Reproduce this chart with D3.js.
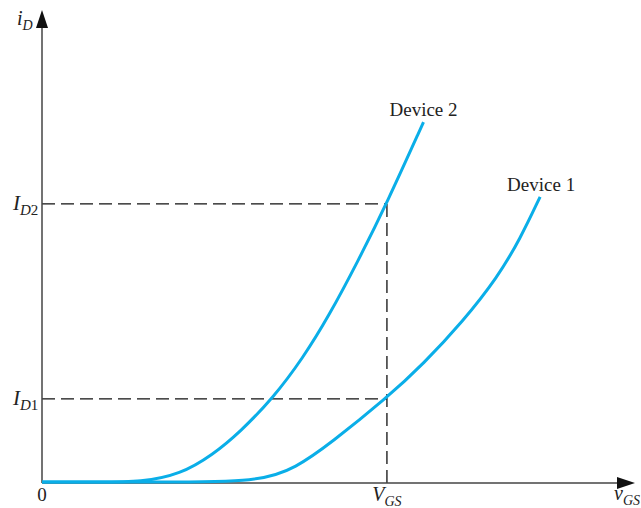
<!DOCTYPE html>
<html>
<head>
<meta charset="utf-8">
<script src="https://cdn.jsdelivr.net/npm/d3@7"></script>
<style>
  body { margin: 0; background: #fff; }
  text { font-family: "Liberation Serif", "DejaVu Serif", serif; fill: #222; }
</style>
</head>
<body>
<svg id="chart" width="641" height="508"></svg>
<script>
// curves: [vGS, iD] in arbitrary units
var device1 = [[0, 0], [1.2, 0], [2.2, 0], [2.57, 0.3], [2.92, 0.82], [3.49, 1.78], [3.86, 2.5],
               [4.26, 3.4], [4.61, 4.33], [4.84, 5.15], [5.04, 6.03]];
var device2 = [[0, 0], [0.6, 0], [1.0, 0], [1.4, 0.16], [1.73, 0.58], [2.0, 1.05], [2.34, 1.78],
               [2.64, 2.62], [2.9, 3.5], [3.2, 4.68], [3.49, 5.9], [3.86, 7.61]];
var vgs = 3.49;
var idLevels = [{ name: '1', value: 1.78 }, { name: '2', value: 5.9 }];
var curveNames = ['Device 1', 'Device 2'];

var svg = d3.select('#chart');
var x = d3.scaleLinear().domain([0, 6]).range([42, 635]);
var y = d3.scaleLinear().domain([0, 10]).range([483, 10]);

var blue = '#0AAEE8';

// dashed guides
idLevels.forEach(function(d){
    svg.append('line')
        .attr('x1', x(0)).attr('x2', x(vgs))
        .attr('y1', y(d.value)).attr('y2', y(d.value))
        .attr('stroke', '#111').attr('stroke-width', 1.3)
        .attr('stroke-dasharray', '13,6');
});
svg.append('line')
    .attr('x1', x(vgs)).attr('x2', x(vgs))
    .attr('y1', y(idLevels[1].value)).attr('y2', y(0))
    .attr('stroke', '#111').attr('stroke-width', 1.3)
    .attr('stroke-dasharray', '13,6');

// axes
svg.append('line')
    .attr('x1', x(0)).attr('x2', x(6) - 14)
    .attr('y1', y(0)).attr('y2', y(0))
    .attr('stroke', '#444').attr('stroke-width', 1.5);
svg.append('line')
    .attr('x1', x(0)).attr('x2', x(0))
    .attr('y1', y(0)).attr('y2', y(10) + 14)
    .attr('stroke', '#444').attr('stroke-width', 1.5);
svg.append('path')
    .attr('d', 'M' + x(6) + ',' + y(0) + 'l-18,-6l0,12z')
    .attr('fill', '#111');
svg.append('path')
    .attr('d', 'M' + x(0) + ',' + y(10) + 'l-6,18l12,0z')
    .attr('fill', '#111');

// curves
var line = d3.line()
    .x(function(d){ return x(d[0]); })
    .y(function(d){ return y(d[1]) - 1; })
    .curve(d3.curveBasis);

[device1, device2].forEach(function(data){
    svg.append('path')
        .datum(data)
        .attr('d', line)
        .attr('fill', 'none')
        .attr('stroke', blue)
        .attr('stroke-width', 3);
});

// curve labels
svg.append('text').attr('x', x(device1[device1.length - 1][0]) - 33).attr('y', 191)
    .attr('font-size', 19).text(curveNames[0]);
svg.append('text').attr('x', x(device2[device2.length - 1][0]) - 34).attr('y', 116)
    .attr('font-size', 19).text(curveNames[1]);

// italic label with subscript
function subLabel(px, py, main, sub, anchor){
    var t = svg.append('text').attr('x', px).attr('y', py)
        .attr('text-anchor', anchor || 'start').attr('font-size', 20);
    t.append('tspan').attr('font-style', 'italic').text(main);
    t.append('tspan').attr('font-size', 14).attr('dy', 5).attr('font-style', 'italic').text(sub);
    return t;
}

subLabel(17, 25, 'i', 'D');
idLevels.forEach(function(d){
    var t = svg.append('text').attr('x', 13).attr('y', y(d.value) + 6).attr('font-size', 21);
    t.append('tspan').attr('font-style', 'italic').text('I');
    t.append('tspan').attr('font-size', 15).attr('dy', 5).attr('font-style', 'italic').text('D');
    t.append('tspan').attr('font-size', 15).text(d.name);
});
svg.append('text').attr('x', x(0)).attr('y', 501).attr('text-anchor', 'middle')
    .attr('font-size', 19).text('0');
subLabel(x(vgs), 501, 'V', 'GS', 'middle');
subLabel(614, 500, 'v', 'GS');
</script>
</body>
</html>
